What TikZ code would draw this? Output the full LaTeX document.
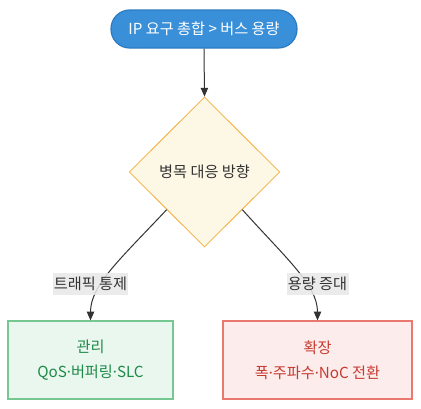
\documentclass[tikz,border=0pt]{standalone}
\usepackage{fontspec}
\setmainfont{Noto Sans CJK KR}
\newfontfamily\latinfont{Noto Sans}
\newcommand{\mdot}{{\latinfont ·}}
\usetikzlibrary{shapes.geometric,arrows.meta}
\definecolor{pillfill}{HTML}{3A90D8}
\definecolor{pilldraw}{HTML}{2C7BC0}
\definecolor{diafill}{HTML}{FDF7E5}
\definecolor{diadraw}{HTML}{F2AE3A}
\definecolor{gfill}{HTML}{E9F7EE}
\definecolor{gdraw}{HTML}{76C893}
\definecolor{gtext}{HTML}{1E8A48}
\definecolor{rfill}{HTML}{FDECEC}
\definecolor{rdraw}{HTML}{E9786F}
\definecolor{rtext}{HTML}{C63A30}
\definecolor{lblfill}{HTML}{E8E8E8}
\definecolor{ink}{HTML}{333333}
\tikzset{
  basefont/.style={font=\fontsize{11.4}{18.75}\selectfont},
  pill/.style={basefont, draw=pilldraw, fill=pillfill, text=white, line width=0.9pt,
    rounded corners=14pt, minimum width=139.5pt, minimum height=28.5pt, inner sep=0pt},
  dia/.style={basefont, diamond, draw=diadraw, fill=diafill, text=ink, line width=0.6pt,
    minimum width=113pt, minimum height=112.5pt, inner sep=0pt},
  gbox/.style={basefont, draw=gdraw, fill=gfill, text=gtext, line width=0.9pt, align=center,
    minimum width=123.75pt, minimum height=58.5pt, inner sep=0pt},
  rbox/.style={basefont, draw=rdraw, fill=rfill, text=rtext, line width=0.9pt, align=center,
    minimum width=141.75pt, minimum height=58.5pt, inner sep=0pt},
  lbl/.style={basefont, fill=lblfill, fill opacity=0.85, text opacity=1, text=ink,
    inner xsep=1pt, inner ysep=0pt, minimum height=17pt},
  conn/.style={draw=ink, line width=0.75pt, -{Triangle[length=6.5pt,width=5.5pt]}},
}
\begin{document}
\begin{tikzpicture}[x=0.75pt,y=-0.75pt]
\useasboundingbox (0,0) rectangle (421,408);
\node[pill] (top) at (204,29) {IP 요구 총합 > 버스 용량};
\node[dia] (d) at (204.5,172) {병목 대응 방향};
\node[gbox] (b1) at (90.5,360) {관리\\QoS\mdot 버퍼링\mdot SLC};
\node[rbox] (b2) at (317.5,360) {확장\\폭\mdot 주파수\mdot NoC 전환};
\draw[conn] (top.south) -- (d.north);
\draw[conn] (d.south west) .. controls +(-47,50) and +(0,-35) .. (b1.north);
\draw[conn] (d.south east) .. controls +(45,50) and +(0,-35) .. (b2.north);
\node[lbl] (l1) at (90.5,284) {트래픽 통제};
\node[lbl] (l2) at (317.5,284) {용량 증대};
\end{tikzpicture}
\end{document}
